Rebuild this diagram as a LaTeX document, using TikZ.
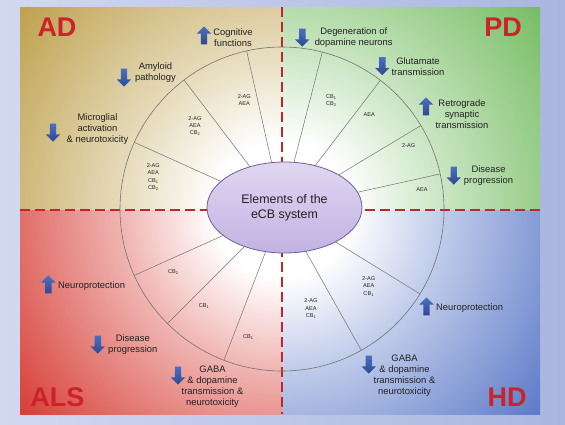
\documentclass[tikz,border=0pt]{standalone}
\usepackage{fontspec}
\setmainfont{Liberation Sans}
\usetikzlibrary{shapes.arrows,shapes.geometric,calc}
\definecolor{adcol}{HTML}{BC9E48}
\definecolor{pdcol}{HTML}{70BA5C}
\definecolor{alscol}{HTML}{D63830}
\definecolor{hdcol}{HTML}{5574C6}
\colorlet{adlight}{adcol!38!white}
\colorlet{pdlight}{pdcol!38!white}
\colorlet{alslight}{alscol!38!white}
\colorlet{hdlight}{hdcol!38!white}
\definecolor{bgl}{HTML}{D2D8F0}
\definecolor{bgr}{HTML}{AAB6E0}
\definecolor{labred}{HTML}{CC2229}
\definecolor{dashred}{HTML}{C0272D}
\definecolor{arrtop}{HTML}{4D6FC2}
\definecolor{arrbot}{HTML}{2B4A92}
\definecolor{txt}{HTML}{222222}
\definecolor{ellfill}{HTML}{D2C6EC}
\definecolor{ellfill2}{HTML}{C2B2E2}
\definecolor{ellline}{HTML}{6F5F98}
\pgfdeclareradialshading{adshade}{\pgfpoint{0bp}{0bp}}{color(0bp)=(white); color(5bp)=(white); color(12bp)=(adlight); color(25bp)=(adcol); color(50bp)=(adcol)}
\pgfdeclareradialshading{pdshade}{\pgfpoint{0bp}{0bp}}{color(0bp)=(white); color(5bp)=(white); color(12bp)=(pdlight); color(25bp)=(pdcol); color(50bp)=(pdcol)}
\pgfdeclareradialshading{alsshade}{\pgfpoint{0bp}{0bp}}{color(0bp)=(white); color(5bp)=(white); color(12bp)=(alslight); color(25bp)=(alscol); color(50bp)=(alscol)}
\pgfdeclareradialshading{hdshade}{\pgfpoint{0bp}{0bp}}{color(0bp)=(white); color(5bp)=(white); color(12bp)=(hdlight); color(25bp)=(hdcol); color(50bp)=(hdcol)}
\tikzset{
  effect/.style={align=center, text=txt, font=\fontsize{9.4}{11}\selectfont, inner sep=0pt},
  small/.style={align=center, text=txt, font=\fontsize{5.6}{7.3}\selectfont, inner sep=0pt},
  quad/.style={text=labred, font=\fontsize{27}{27}\selectfont\bfseries, inner sep=0pt},
  blockarrow/.style={single arrow, draw=none, minimum width=14pt, minimum height=18pt,
     single arrow head extend=4pt, inner sep=3pt, top color=arrtop, bottom color=arrbot},
  uparr/.style={blockarrow, shape border rotate=90},
  downarr/.style={blockarrow, shape border rotate=270},
  divider/.style={draw=dashred, line width=2pt, dash pattern=on 10pt off 5pt},
  ring/.style={draw=black!55, line width=0.6pt},
  spoke/.style={draw=black!55, line width=0.5pt},
  ecbnode/.style={ellipse, draw=ellline, line width=0.8pt, top color=ellfill!70!white, bottom color=ellfill2,
     minimum width=155pt, minimum height=91pt, inner sep=0pt, align=center, text=txt,
     font=\fontsize{12.4}{15}\selectfont}
}
\begin{document}
\begin{tikzpicture}[x=1pt,y=-1pt]
\useasboundingbox (0,0) rectangle (565,424);
\shade[left color=bgl, right color=bgr] (0,0) rectangle (565,424);
\coordinate (c) at (282,210);
\coordinate (o) at (282,209);
\begin{scope}\clip (20,7) rectangle (282,210); \shade[shading=adshade] (c) circle[radius=340]; \end{scope}
\begin{scope}\clip (282,7) rectangle (540,210); \shade[shading=pdshade] (c) circle[radius=340]; \end{scope}
\begin{scope}\clip (20,210) rectangle (282,414); \shade[shading=alsshade] (c) circle[radius=340]; \end{scope}
\begin{scope}\clip (282,210) rectangle (540,414); \shade[shading=hdshade] (c) circle[radius=340]; \end{scope}
% dividers
\coordinate (vt) at (282,7); \coordinate (vb) at (282,414);
\coordinate (hl) at (20,210); \coordinate (hr) at (540,210);
\draw[divider] (vt) -- (vb);
\draw[divider] (hl) -- (hr);
% ring and spokes
\draw[ring] (o) circle[radius=162];
\foreach \a in {102.6,127.2,155.7,75.6,52.6,31,12.5,204.2,225,249,-31.6,-60.7}
  \draw[spoke] (o) -- ++(\a:162pt);
% centre
\node[ecbnode] (ecb) at (284.5,207.5) {Elements of the\\eCB system};
% quadrant labels
\node[quad] (qad) at (57,27.5) {AD};
\node[quad] (qpd) at (503,27.5) {PD};
\node[quad] (qals) at (57.5,397) {ALS};
\node[quad] (qhd) at (507,397) {HD};
% small labels
\node[small] (s1) at (244.3,100.3) {2-AG\\AEA};
\node[small] (s2) at (195,126) {2-AG\\AEA\\CB\textsubscript{2}};
\node[small] (s3) at (153.3,177) {2-AG\\AEA\\CB\textsubscript{1}\\CB\textsubscript{2}};
\node[small] (s4) at (331.3,100.3) {CB\textsubscript{1}\\CB\textsubscript{2}};
\node[small] (s5) at (369.3,114.3) {AEA};
\node[small] (s6) at (408.7,145.7) {2-AG};
\node[small] (s7) at (422,189.3) {AEA};
\node[small] (s8) at (173.3,272) {CB\textsubscript{2}};
\node[small] (s9) at (204,306.3) {CB\textsubscript{1}};
\node[small] (s10) at (248.3,337) {CB\textsubscript{1}};
\node[small] (s11) at (368.7,286.3) {2-AG\\AEA\\CB\textsubscript{1}};
\node[small] (s12) at (311,308.8) {2-AG\\AEA\\CB\textsubscript{1}};
% AD effects
\node[uparr] (a1) at (204,37) {};
\node[effect] (t1) at (233,37.5) {Cognitive\\functions};
\node[downarr] (a2) at (124,76) {};
\node[effect] (t2) at (155.5,73) {Amyloid\\pathology};
\node[downarr] (a3) at (53,131) {};
\node[effect] (t3) at (97.5,129.5) {Microglial\\activation\\\& neurotoxicity};
% PD effects
\node[downarr] (a4) at (302.3,36) {};
\node[effect] (t4) at (353.7,37.5) {Degeneration of\\dopamine neurons};
\node[downarr] (a5) at (382.3,64.5) {};
\node[effect] (t5) at (418,66.5) {Glutamate\\transmission};
\node[uparr] (a6) at (426,108) {};
\node[effect] (t6) at (462,114.5) {Retrograde\\synaptic\\transmission};
\node[downarr] (a7) at (453.7,174) {};
\node[effect] (t7) at (488.5,176) {Disease\\progression};
% ALS effects
\node[uparr] (a8) at (48.3,286) {};
\node[effect, anchor=west] (t8) at (58,286) {Neuroprotection};
\node[downarr] (a9) at (97.8,343) {};
\node[effect] (t9) at (132.8,344.5) {Disease\\progression};
\node[downarr] (a10) at (178,374) {};
\node[effect] (t10) at (212.5,386.5) {GABA\\\& dopamine\\transmission \&\\neurotoxicity};
% HD effects
\node[uparr] (a11) at (426.5,308) {};
\node[effect, anchor=west] (t11) at (436,308) {Neuroprotection};
\node[downarr] (a12) at (368.7,363) {};
\node[effect] (t12) at (404.5,376) {GABA\\\& dopamine\\transmission \&\\neurotoxicity};
\end{tikzpicture}
\end{document}
